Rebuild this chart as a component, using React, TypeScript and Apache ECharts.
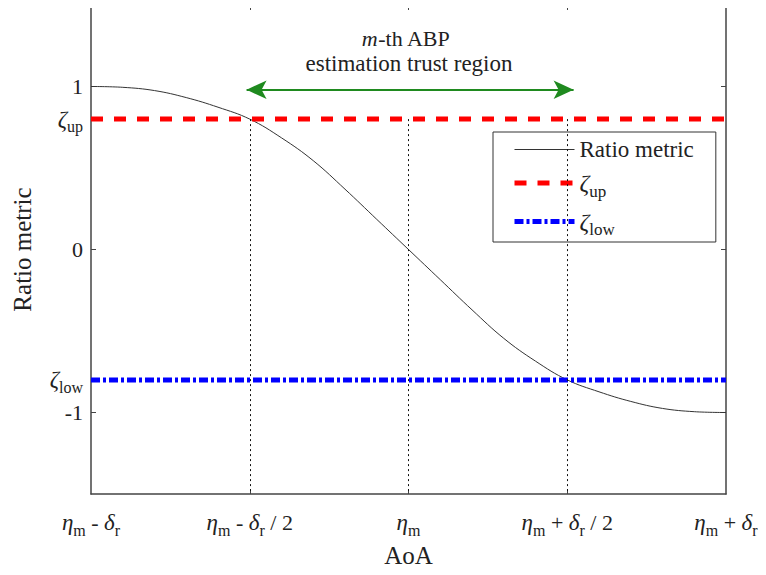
import React, { useEffect, useRef } from "react";
import * as echarts from "echarts";

const xTickValues = [-1, -0.5, 0, 0.5, 1];
const xTickLabels = [
  "{i|η}{s|m} - {i|δ}{s|r}",
  "{i|η}{s|m} - {i|δ}{s|r} / 2",
  "{i|η}{s|m}",
  "{i|η}{s|m} + {i|δ}{s|r} / 2",
  "{i|η}{s|m} + {i|δ}{s|r}",
];
const yTickValues = [-1, 0, 1];
const yLabelValues = [-1, -0.8, 0, 0.8, 1];
const yLabelTexts = ["-1", "{i|ζ}{s|low}", "0", "{i|ζ}{s|up}", "1"];

const curveX = [-1, -0.9, -0.8, -0.7, -0.6, -0.5, -0.4, -0.3, -0.2, -0.1, 0, 0.1, 0.2, 0.3, 0.4, 0.5, 0.6, 0.7, 0.8, 0.9, 1];
const curveY = [1, 0.995, 0.975, 0.932, 0.873, 0.8, 0.685, 0.545, 0.37, 0.185, 0, -0.185, -0.37, -0.545, -0.685, -0.8, -0.873, -0.932, -0.975, -0.995, -1];

const zetaUp = 0.8;
const zetaLow = -0.8;
const guideX = [-0.5, 0, 0.5];
const arrowStartX = -0.51;
const arrowEndX = 0.52;
const arrowY = 0.98;

const SERIF = "serif";

export default function App() {
  const ref = useRef<HTMLDivElement>(null);
  useEffect(() => {
    if (!ref.current) return;
    const chart = echarts.init(ref.current, null, { renderer: "svg" });
    const mkRich = (base: number) => ({
      i: { fontFamily: SERIF, fontStyle: "italic", fontSize: base + 1, color: "#222" },
      s: { fontFamily: SERIF, fontSize: Math.round(base * 0.72), color: "#222", padding: [Math.round(base * 0.7), 0, 0, 0] },
    });
    const axisColor = "#444";
    const redStyle = { color: "#ff0000", width: 5, type: [12, 11] };
    const blueStyle = { color: "#0000ff", width: 5, type: [9, 3, 3, 3] };
    chart.setOption({
      animation: false,
      backgroundColor: "#fff",
      textStyle: { fontFamily: SERIF },
      grid: { left: 91, right: 40, top: 5, bottom: 81, containLabel: false },
      xAxis: [
        {
          type: "value",
          min: -1,
          max: 1,
          name: "AoA",
          nameLocation: "middle",
          nameGap: 48,
          nameTextStyle: { fontFamily: SERIF, fontSize: 25, color: "#222" },
          axisLine: { onZero: false, lineStyle: { color: axisColor, width: 1.5 } },
          axisTick: { inside: true, length: 5, customValues: guideX, lineStyle: { color: axisColor } },
          splitLine: { show: false },
          axisLabel: {
            customValues: xTickValues,
            margin: 13,
            fontFamily: SERIF,
            fontSize: 22,
            color: "#222",
            rich: mkRich(22),
            formatter: (v: number) => {
              const k = xTickValues.findIndex((t) => Math.abs(t - v) < 1e-6);
              return k >= 0 ? xTickLabels[k] : "";
            },
          },
        },
        {
          type: "value",
          position: "top",
          min: -1,
          max: 1,
          axisLine: { onZero: false, lineStyle: { color: axisColor, width: 1.5 } },
          axisTick: { inside: true, length: 5, customValues: guideX, lineStyle: { color: axisColor } },
          axisLabel: { show: false },
          splitLine: { show: false },
        },
      ],
      yAxis: [
        {
          type: "value",
          min: -1.5,
          max: 1.5,
          name: "Ratio metric",
          nameLocation: "middle",
          nameGap: 56,
          nameTextStyle: { fontFamily: SERIF, fontSize: 25, color: "#222" },
          axisLine: { show: true, onZero: false, lineStyle: { color: axisColor, width: 1.5 } },
          axisTick: { show: true, inside: true, length: 5, customValues: yTickValues, lineStyle: { color: axisColor } },
          splitLine: { show: false },
          axisLabel: {
            customValues: yLabelValues,
            margin: 8,
            fontFamily: SERIF,
            fontSize: 22,
            color: "#222",
            rich: mkRich(22),
            formatter: (v: number) => {
              const k = yLabelValues.findIndex((t) => Math.abs(t - v) < 1e-6);
              return k >= 0 ? yLabelTexts[k] : "";
            },
          },
        },
        {
          type: "value",
          position: "right",
          min: -1.5,
          max: 1.5,
          axisLine: { show: true, onZero: false, lineStyle: { color: axisColor, width: 1.5 } },
          axisTick: { show: true, inside: true, length: 5, customValues: yTickValues, lineStyle: { color: axisColor } },
          axisLabel: { show: false },
          splitLine: { show: false },
        },
      ],
      legend: {
        orient: "vertical",
        left: 493,
        top: 132,
        data: [
          { name: "Ratio metric", itemStyle: { opacity: 0 }, lineStyle: { color: "#333", width: 1.2 } },
          { name: "ζup", itemStyle: { opacity: 0 }, lineStyle: redStyle },
          { name: "ζlow", itemStyle: { opacity: 0 }, lineStyle: blueStyle },
        ],
        backgroundColor: "#fff",
        borderColor: "#333",
        borderWidth: 1,
        borderRadius: 0,
        padding: [6, 22, 4, 19],
        itemWidth: 60,
        itemHeight: 12,
        itemGap: 10,
        textStyle: { fontFamily: SERIF, fontSize: 23, color: "#222", rich: mkRich(23) },
        formatter: (name: string) => {
          if (name === "ζup") return "{i|ζ}{s|up}";
          if (name === "ζlow") return "{i|ζ}{s|low}";
          return name;
        },
      },
      graphic: [
        {
          type: "text",
          x: 406,
          y: 38,
          style: {
            text: "{i|m}-th ABP",
            align: "center",
            verticalAlign: "middle",
            fontFamily: SERIF,
            fontSize: 22,
            fill: "#222",
            rich: { i: { fontFamily: SERIF, fontStyle: "italic", fontSize: 22, fill: "#222" } },
          },
        },
        {
          type: "text",
          x: 409,
          y: 63,
          style: {
            text: "estimation trust region",
            align: "center",
            verticalAlign: "middle",
            fontFamily: SERIF,
            fontSize: 23,
            fill: "#222",
          },
        },
      ],
      series: [
        {
          name: "Ratio metric",
          type: "line",
          data: curveX.map((x, i) => [x, curveY[i]]),
          smooth: 0.4,
          symbol: "none",
          lineStyle: { color: "#333", width: 1 },
          itemStyle: { color: "#333" },
          z: 3,
        },
        {
          name: "ζup",
          type: "line",
          data: [[-1, zetaUp], [1, zetaUp]],
          symbol: "none",
          lineStyle: redStyle,
          itemStyle: { color: "#ff0000" },
          z: 4,
        },
        {
          name: "ζlow",
          type: "line",
          data: [[-1, zetaLow], [1, zetaLow]],
          symbol: "none",
          lineStyle: blueStyle,
          itemStyle: { color: "#0000ff" },
          z: 4,
        },
        {
          name: "guides",
          type: "line",
          data: [],
          symbol: "none",
          z: 2,
          markLine: {
            silent: true,
            symbol: ["none", "none"],
            label: { show: false },
            lineStyle: { color: "#111", width: 1, type: [2, 3] },
            data: guideX.map((x) => [{ coord: [x, zetaUp] }, { coord: [x, -1.5] }]),
          },
        },
        {
          name: "arrow",
          type: "line",
          data: [],
          symbol: "none",
          z: 5,
          markLine: {
            silent: true,
            symbol: ["arrow", "arrow"],
            symbolSize: [14, 20],
            label: { show: false },
            lineStyle: { color: "#1f8a1f", width: 2, type: "solid" },
            itemStyle: { color: "#1f8a1f" },
            data: [[{ coord: [arrowStartX, arrowY] }, { coord: [arrowEndX, arrowY] }]],
          },
        },
      ],
    });
    return () => chart.dispose();
  }, []);
  return <div ref={ref} style={{ width: 766, height: 575, margin: -8 }} />;
}
